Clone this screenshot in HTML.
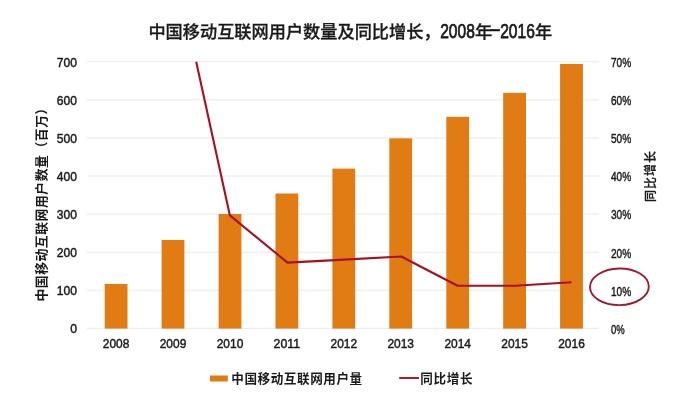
<!DOCTYPE html>
<html lang="zh"><head><meta charset="utf-8"><title>中国移动互联网用户数量及同比增长</title>
<style>
html,body{margin:0;padding:0;background:#fff;}
body{width:677px;height:411px;overflow:hidden;}
svg{display:block;}
text{font-family:"Liberation Sans","Noto Sans CJK SC",sans-serif;fill:#1a1a1a;}
.cjk{font-family:"Liberation Sans","Noto Sans CJK SC",sans-serif;font-weight:700;}
</style></head><body>
<svg width="677" height="411" viewBox="0 0 677 411">
<rect width="677" height="411" fill="#ffffff"/>

<line x1="87" x2="599" y1="61.8" y2="61.8" stroke="#e9e9ed" stroke-width="1"/>
<line x1="87" x2="599" y1="99.9" y2="99.9" stroke="#e9e9ed" stroke-width="1"/>
<line x1="87" x2="599" y1="137.9" y2="137.9" stroke="#e9e9ed" stroke-width="1"/>
<line x1="87" x2="599" y1="176.0" y2="176.0" stroke="#e9e9ed" stroke-width="1"/>
<line x1="87" x2="599" y1="214.1" y2="214.1" stroke="#e9e9ed" stroke-width="1"/>
<line x1="87" x2="599" y1="252.2" y2="252.2" stroke="#e9e9ed" stroke-width="1"/>
<line x1="87" x2="599" y1="290.2" y2="290.2" stroke="#e9e9ed" stroke-width="1"/>
<line x1="87" x2="599" y1="328.3" y2="328.3" stroke="#e9e9ed" stroke-width="1"/>
<rect x="104.7" y="284.0" width="22.8" height="44.6" fill="#e17c15"/>
<rect x="161.6" y="240.0" width="22.8" height="88.6" fill="#e17c15"/>
<rect x="218.6" y="214.0" width="22.8" height="114.6" fill="#e17c15"/>
<rect x="275.5" y="193.5" width="22.8" height="135.1" fill="#e17c15"/>
<rect x="332.4" y="168.6" width="22.8" height="160.0" fill="#e17c15"/>
<rect x="389.3" y="138.3" width="22.8" height="190.3" fill="#e17c15"/>
<rect x="446.3" y="116.8" width="22.8" height="211.8" fill="#e17c15"/>
<rect x="503.2" y="92.8" width="22.8" height="235.8" fill="#e17c15"/>
<rect x="560.1" y="64.0" width="22.8" height="264.6" fill="#e17c15"/>
<polyline points="196.2,61.8 229.9,215.4 287.5,262.6 344.3,259.6 401.2,256.5 457.6,285.8 515.2,285.8 571.5,282.2" fill="none" stroke="#ab0f1f" stroke-width="2.1" stroke-linejoin="round"/>
<ellipse cx="619.4" cy="286.8" rx="29.4" ry="18.3" fill="none" stroke="#a01a2c" stroke-width="1.9" transform="rotate(-1 619.4 286.8)"/>
<text x="56.8" y="66.6" font-size="13" stroke="#1a1a1a" stroke-width="0.45" textLength="20.2" lengthAdjust="spacingAndGlyphs">700</text>
<text x="611" y="67.1" font-size="13" stroke="#1a1a1a" stroke-width="0.45" textLength="20.2" lengthAdjust="spacingAndGlyphs">70%</text>
<text x="56.8" y="104.7" font-size="13" stroke="#1a1a1a" stroke-width="0.45" textLength="20.2" lengthAdjust="spacingAndGlyphs">600</text>
<text x="611" y="105.2" font-size="13" stroke="#1a1a1a" stroke-width="0.45" textLength="20.2" lengthAdjust="spacingAndGlyphs">60%</text>
<text x="56.8" y="142.7" font-size="13" stroke="#1a1a1a" stroke-width="0.45" textLength="20.2" lengthAdjust="spacingAndGlyphs">500</text>
<text x="611" y="143.2" font-size="13" stroke="#1a1a1a" stroke-width="0.45" textLength="20.2" lengthAdjust="spacingAndGlyphs">50%</text>
<text x="56.8" y="180.8" font-size="13" stroke="#1a1a1a" stroke-width="0.45" textLength="20.2" lengthAdjust="spacingAndGlyphs">400</text>
<text x="611" y="181.3" font-size="13" stroke="#1a1a1a" stroke-width="0.45" textLength="20.2" lengthAdjust="spacingAndGlyphs">40%</text>
<text x="56.8" y="218.9" font-size="13" stroke="#1a1a1a" stroke-width="0.45" textLength="20.2" lengthAdjust="spacingAndGlyphs">300</text>
<text x="611" y="219.4" font-size="13" stroke="#1a1a1a" stroke-width="0.45" textLength="20.2" lengthAdjust="spacingAndGlyphs">30%</text>
<text x="56.8" y="257.0" font-size="13" stroke="#1a1a1a" stroke-width="0.45" textLength="20.2" lengthAdjust="spacingAndGlyphs">200</text>
<text x="611" y="257.5" font-size="13" stroke="#1a1a1a" stroke-width="0.45" textLength="20.2" lengthAdjust="spacingAndGlyphs">20%</text>
<text x="56.8" y="295.0" font-size="13" stroke="#1a1a1a" stroke-width="0.45" textLength="20.2" lengthAdjust="spacingAndGlyphs">100</text>
<text x="611" y="295.5" font-size="13" stroke="#1a1a1a" stroke-width="0.45" textLength="20.2" lengthAdjust="spacingAndGlyphs">10%</text>
<text x="70.2" y="333.1" font-size="13" stroke="#1a1a1a" stroke-width="0.45" textLength="6.8" lengthAdjust="spacingAndGlyphs">0</text>
<text x="611" y="333.6" font-size="13" stroke="#1a1a1a" stroke-width="0.45" textLength="13.7" lengthAdjust="spacingAndGlyphs">0%</text>
<text x="102.8" y="348.4" font-size="13" stroke="#1a1a1a" stroke-width="0.45" textLength="26.6" lengthAdjust="spacingAndGlyphs">2008</text>
<text x="159.7" y="348.4" font-size="13" stroke="#1a1a1a" stroke-width="0.45" textLength="26.6" lengthAdjust="spacingAndGlyphs">2009</text>
<text x="216.7" y="348.4" font-size="13" stroke="#1a1a1a" stroke-width="0.45" textLength="26.6" lengthAdjust="spacingAndGlyphs">2010</text>
<text x="273.6" y="348.4" font-size="13" stroke="#1a1a1a" stroke-width="0.45" textLength="26.6" lengthAdjust="spacingAndGlyphs">2011</text>
<text x="330.5" y="348.4" font-size="13" stroke="#1a1a1a" stroke-width="0.45" textLength="26.6" lengthAdjust="spacingAndGlyphs">2012</text>
<text x="387.4" y="348.4" font-size="13" stroke="#1a1a1a" stroke-width="0.45" textLength="26.6" lengthAdjust="spacingAndGlyphs">2013</text>
<text x="444.4" y="348.4" font-size="13" stroke="#1a1a1a" stroke-width="0.45" textLength="26.6" lengthAdjust="spacingAndGlyphs">2014</text>
<text x="501.3" y="348.4" font-size="13" stroke="#1a1a1a" stroke-width="0.45" textLength="26.6" lengthAdjust="spacingAndGlyphs">2015</text>
<text x="558.2" y="348.4" font-size="13" stroke="#1a1a1a" stroke-width="0.45" textLength="26.6" lengthAdjust="spacingAndGlyphs">2016</text>
<text class="cjk" x="148.4" y="37.8" font-size="17.2" style="font-weight:500" stroke="#1a1a1a" stroke-width="0.3">中国移动互联网用户数量及同比增长，</text>
<text class="cjk" x="440.2" y="38" font-size="19.5" style="font-weight:500" stroke="#1a1a1a" stroke-width="0.75" lengthAdjust="spacingAndGlyphs" textLength="34.6">2008</text>
<text class="cjk" x="475" y="37.8" font-size="17.2" style="font-weight:500" stroke="#1a1a1a" stroke-width="0.3">年</text>
<text class="cjk" x="488.5" y="36.1" font-size="22" style="font-weight:500" stroke="#1a1a1a" stroke-width="0.3" lengthAdjust="spacingAndGlyphs" textLength="12.9">-</text>
<text class="cjk" x="500.2" y="38" font-size="19.5" style="font-weight:500" stroke="#1a1a1a" stroke-width="0.75" lengthAdjust="spacingAndGlyphs" textLength="34.6">2016</text>
<text class="cjk" x="535" y="37.8" font-size="17.2" style="font-weight:500" stroke="#1a1a1a" stroke-width="0.3">年</text>
<text class="cjk" transform="translate(45.5 301.6) rotate(-90)" font-size="12.8" letter-spacing="0.57">中国移动互联网用户数量（百万）</text>
<text class="cjk" transform="translate(655 201.9) rotate(-90)" font-size="12" letter-spacing="1.0" style="font-weight:500" stroke="#1a1a1a" stroke-width="0.25">同比增长</text>
<rect x="210" y="375.5" width="17.8" height="6" fill="#e17c15"/>
<text class="cjk" x="231.3" y="383.4" font-size="12.6" letter-spacing="0.55">中国移动互联网用户量</text>
<line x1="399.2" x2="419" y1="378" y2="378" stroke="#ab0f1f" stroke-width="1.9"/>
<text class="cjk" x="420.3" y="383.4" font-size="12.6" letter-spacing="0.65">同比增长</text>
</svg></body></html>
